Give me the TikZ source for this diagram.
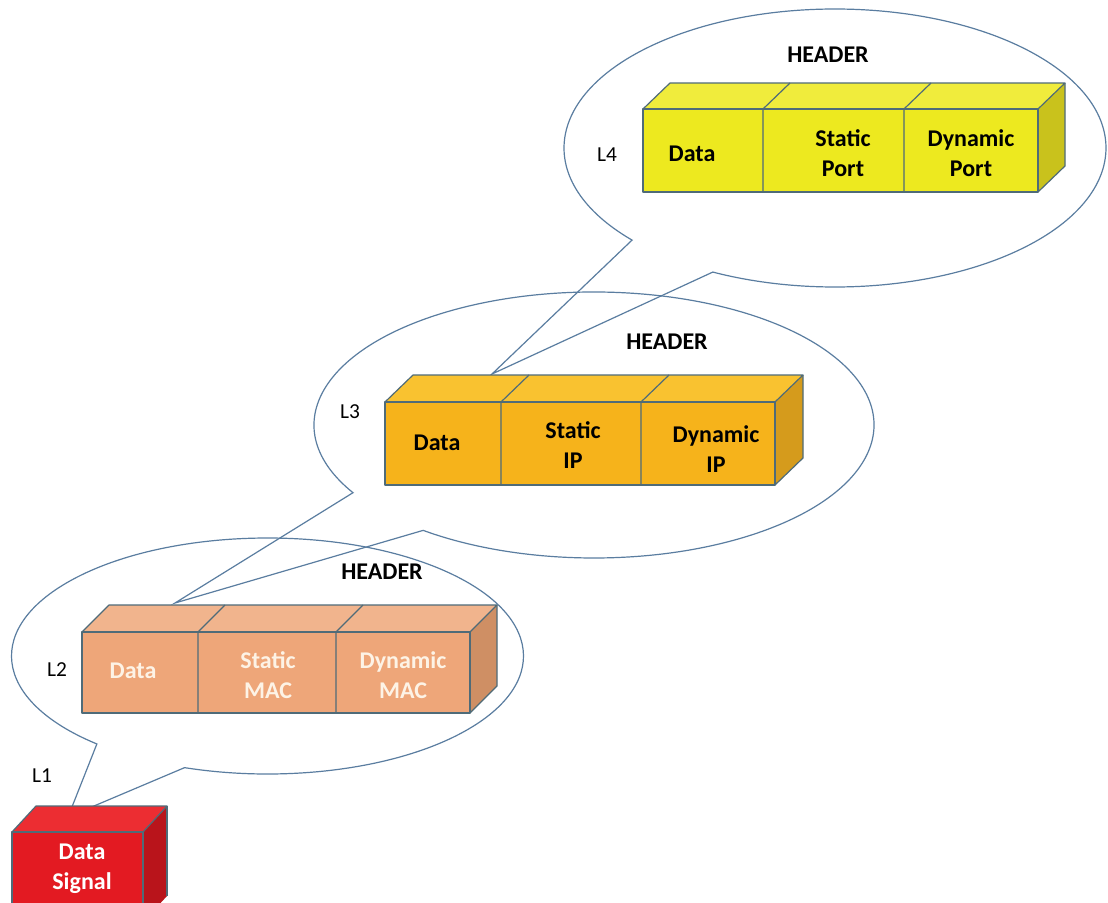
\documentclass[tikz,border=0pt]{standalone}
\usepackage{fontspec}
\setmainfont{Carlito}
\definecolor{edge}{HTML}{4F6B78}
\definecolor{bubble}{HTML}{5A7DA0}
\definecolor{ylfront}{HTML}{EDE91F}
\definecolor{yltop}{HTML}{F0EC3C}
\definecolor{ylside}{HTML}{C9C21C}
\definecolor{orfront}{HTML}{F6B31B}
\definecolor{ortop}{HTML}{F9C230}
\definecolor{orside}{HTML}{D59B1C}
\definecolor{safront}{HTML}{EEA679}
\definecolor{satop}{HTML}{F1B48D}
\definecolor{saside}{HTML}{CF8F64}
\definecolor{rdfront}{HTML}{E31A22}
\definecolor{rdtop}{HTML}{EC2D32}
\definecolor{rdside}{HTML}{B9141B}
\definecolor{cream}{HTML}{FDF3E6}

% #1 colour prefix, #2..#5 front x positions, #6 top y, #7 bottom y, #8/#9 depth offset
\newcommand\packetbox[9]{%
  \path (#5,#6) ++(#8,#9) coordinate (#1tr);
  \fill[#1front] (#2,#6) rectangle (#5,#7);
  \fill[#1top] (#2,#6) -- ++(#8,#9) -- (#1tr) -- (#5,#6) -- cycle;
  \fill[#1side] (#5,#6) -- (#1tr) -- ++(0,#7-#6) -- (#5,#7) -- cycle;
  \draw[boxline] (#2,#6) rectangle (#5,#7);
  \draw[boxline] (#2,#6) -- ++(#8,#9) -- (#1tr) -- (#5,#6);
  \draw[boxline] (#1tr) -- ++(0,#7-#6) -- (#5,#7);
  \draw[boxline] (#3,#7) -- (#3,#6) -- ++(#8,#9);
  \draw[boxline] (#4,#7) -- (#4,#6) -- ++(#8,#9);
}

\begin{document}
\begin{tikzpicture}[x=0.75pt,y=-0.75pt,
  boxline/.style={draw=edge,line width=0.9pt,line join=round},
  callout/.style={draw=bubble,line width=0.9pt,line join=miter},
  lbl/.style={font=\fontsize{18}{22.5}\selectfont\bfseries,align=center,inner sep=0pt},
  lvl/.style={font=\fontsize{16}{18}\selectfont,inner sep=0pt}]
\clip (0,0) rectangle (1108,903);
\fill[white] (0,0) rectangle (1108,903);

% speech bubbles, each with a tail pointing at the layer below
\draw[callout] (835,148) ++(138.5:271 and 139) arc[start angle=138.5,end angle=476.8,x radius=271,y radius=139]
  -- (492,374) coordinate (tip4) -- cycle;
\draw[callout] (594,425) ++(149.4:280 and 133) arc[start angle=149.4,end angle=487.6,x radius=280,y radius=133]
  -- (175,603) coordinate (tip3) -- cycle;
\draw[callout] (267.5,656) ++(131.8:256 and 118) arc[start angle=131.8,end angle=468.9,x radius=256,y radius=118]
  -- (68,817) coordinate (tip2) -- cycle;

% layer 4 segment
\packetbox{yl}{643}{763}{904}{1038}{109}{192}{27}{-26}
\node[lbl] (d4) at (692,154) {Data};
\node[lbl] (s4) at (843,153) {Static\\Port};
\node[lbl] (y4) at (971,153) {Dynamic\\Port};
\node[lbl] (h4) at (828,55) {HEADER};
\node[lvl] (l4) at (607,155) {L4};

% layer 3 packet
\packetbox{or}{385}{501}{641}{775}{402}{485}{28}{-27}
\node[lbl] (d3) at (437,443) {Data};
\node[lbl] (s3) at (573,445) {Static\\IP};
\node[lbl] (y3) at (716,449) {Dynamic\\IP};
\node[lbl] (h3) at (667,342) {HEADER};
\node[lvl] (l3) at (350,412) {L3};

% layer 2 frame
\packetbox{sa}{82}{198}{336}{470}{632}{713}{27}{-27}
\node[lbl,text=cream] (d2) at (133,671) {Data};
\node[lbl,text=cream] (s2) at (268,675) {Static\\MAC};
\node[lbl,text=cream] (y2) at (403,675) {Dynamic\\MAC};
\node[lbl] (h2) at (382,572) {HEADER};
\node[lvl] (l2) at (57,670) {L2};

% layer 1 signal
\path (143,832) ++(24,-26) coordinate (rdtr);
\fill[rdfront] (12,832) rectangle (143,910);
\fill[rdtop] (12,832) -- ++(24,-26) -- (rdtr) -- (143,832) -- cycle;
\fill[rdside] (143,832) -- (rdtr) -- ++(0,90) -- (143,922) -- cycle;
\draw[boxline] (12,910) -- (12,832) -- (143,832) -- (143,910);
\draw[boxline] (12,832) -- ++(24,-26) -- (rdtr) -- (143,832);
\draw[boxline] (rdtr) -- ++(0,90);
\node[lbl,text=white] (d1) at (82,869) {Data\\Signal};
\node[lvl] (l1) at (42,776) {L1};
\end{tikzpicture}
\end{document}
